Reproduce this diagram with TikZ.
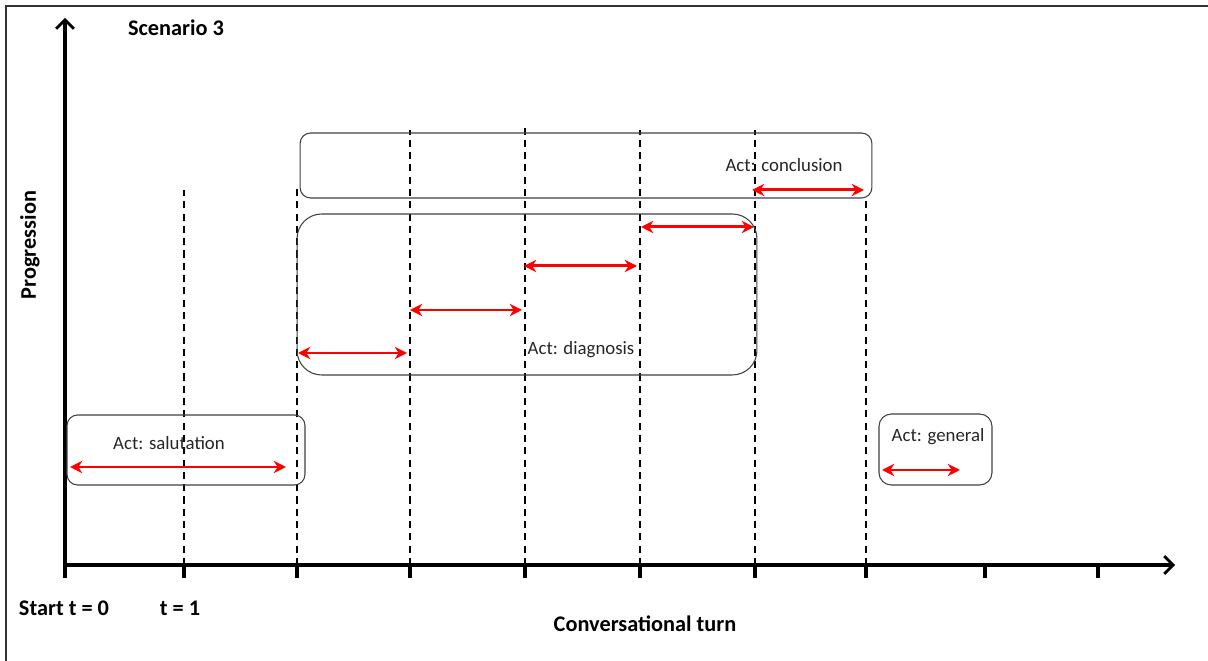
\documentclass[tikz,border=0pt]{standalone}
\usepackage{fontspec}
\setmainfont{Carlito}
\usetikzlibrary{arrows.meta,positioning}
\tikzset{
  actbox/.style={draw=black!75, line width=0.6pt, rectangle, inner sep=0pt},
  turnline/.style={line width=0.6pt, dash pattern=on 4pt off 3pt},
  span/.style={{Stealth[length=7pt,width=7pt]}-{Stealth[length=7pt,width=7pt]}, red, line width=1.7pt},
  axis/.style={line width=2.2pt, -{Straight Barb[length=5pt,width=10pt,line width=1.6pt]}},
  tickmark/.style={line width=1.8pt},
  acttext/.style={font=\fontsize{10.7}{12}\selectfont, text=black!85},
  axistext/.style={font=\bfseries\fontsize{12.7}{14}\selectfont}
}
\begin{document}
\begin{tikzpicture}[x=0.02cm, y=-0.02cm]
    \useasboundingbox (0,0) rectangle (1208,661);
    \draw[line width=1pt, black!80] (6,661) -- (6,6) -- (1208,6);

    % axes
    \coordinate (origin) at (65,565);
    \coordinate (ytop) at (65,18);
    \coordinate (xend) at (1175,565);
    \draw[axis] (origin) -- (ytop);
    \draw[axis] ([xshift=-1pt]origin) -- (xend);

    % turns
    \foreach \x [count=\i from 0] in {65,184,297,410,525,640,755,866,985,1098} {
        \coordinate (t\i) at (\x,565);
        \draw[tickmark] (t\i) -- ++(0,13);
    }
    \foreach \i/\top in {1/190,2/185,3/130,4/128,5/130,6/130,7/198}
        \draw[turnline] (t\i) -- (t\i |- 0,\top);

    % acts
    \node[actbox, rounded corners=6pt, minimum width=4.76cm, minimum height=1.4cm] (salutation) at (186,450) {};
    \node[actbox, rounded corners=14pt, minimum width=9.2cm, minimum height=3.22cm] (diagnosis) at (527,294.5) {};
    \node[actbox, rounded corners=6pt, minimum width=11.44cm, minimum height=1.3cm] (conclusion) at (586,165.5) {};
    \node[actbox, rounded corners=7pt, minimum width=2.26cm, minimum height=1.42cm] (general) at (935.5,449.5) {};

    \node[acttext] (salutationlabel) at (169,443) {Act: salutation};
    \node[acttext] (diagnosislabel) at (581,350) {Act: diagnosis};
    \node[acttext] (conclusionlabel) at (784,165) {Act: conclusion};
    \node[acttext] (generallabel) at (938,437) {Act: general};

    % spans
    \foreach \a/\b/\y [count=\i] in {70/286/467, 298/407/353, 410/522/310, 524/637/266, 641/754/227, 752/864/190, 882/960/470} {
        \coordinate (a\i) at (\a,\y);
        \coordinate (b\i) at (\b,\y);
        \draw[span] (a\i) -- (b\i);
    }

    % labels
    \node[axistext] (title) at (176,28) {Scenario 3};
    \node[axistext, rotate=90] (ylabel) at (30,245) {Progression};
    \node[axistext] (start) at (64,608) {Start t = 0};
    \node[axistext] (tone) at (180,608) {t = 1};
    \node[axistext] (xlabel) at (645,624) {Conversational turn};
\end{tikzpicture}
\end{document}
